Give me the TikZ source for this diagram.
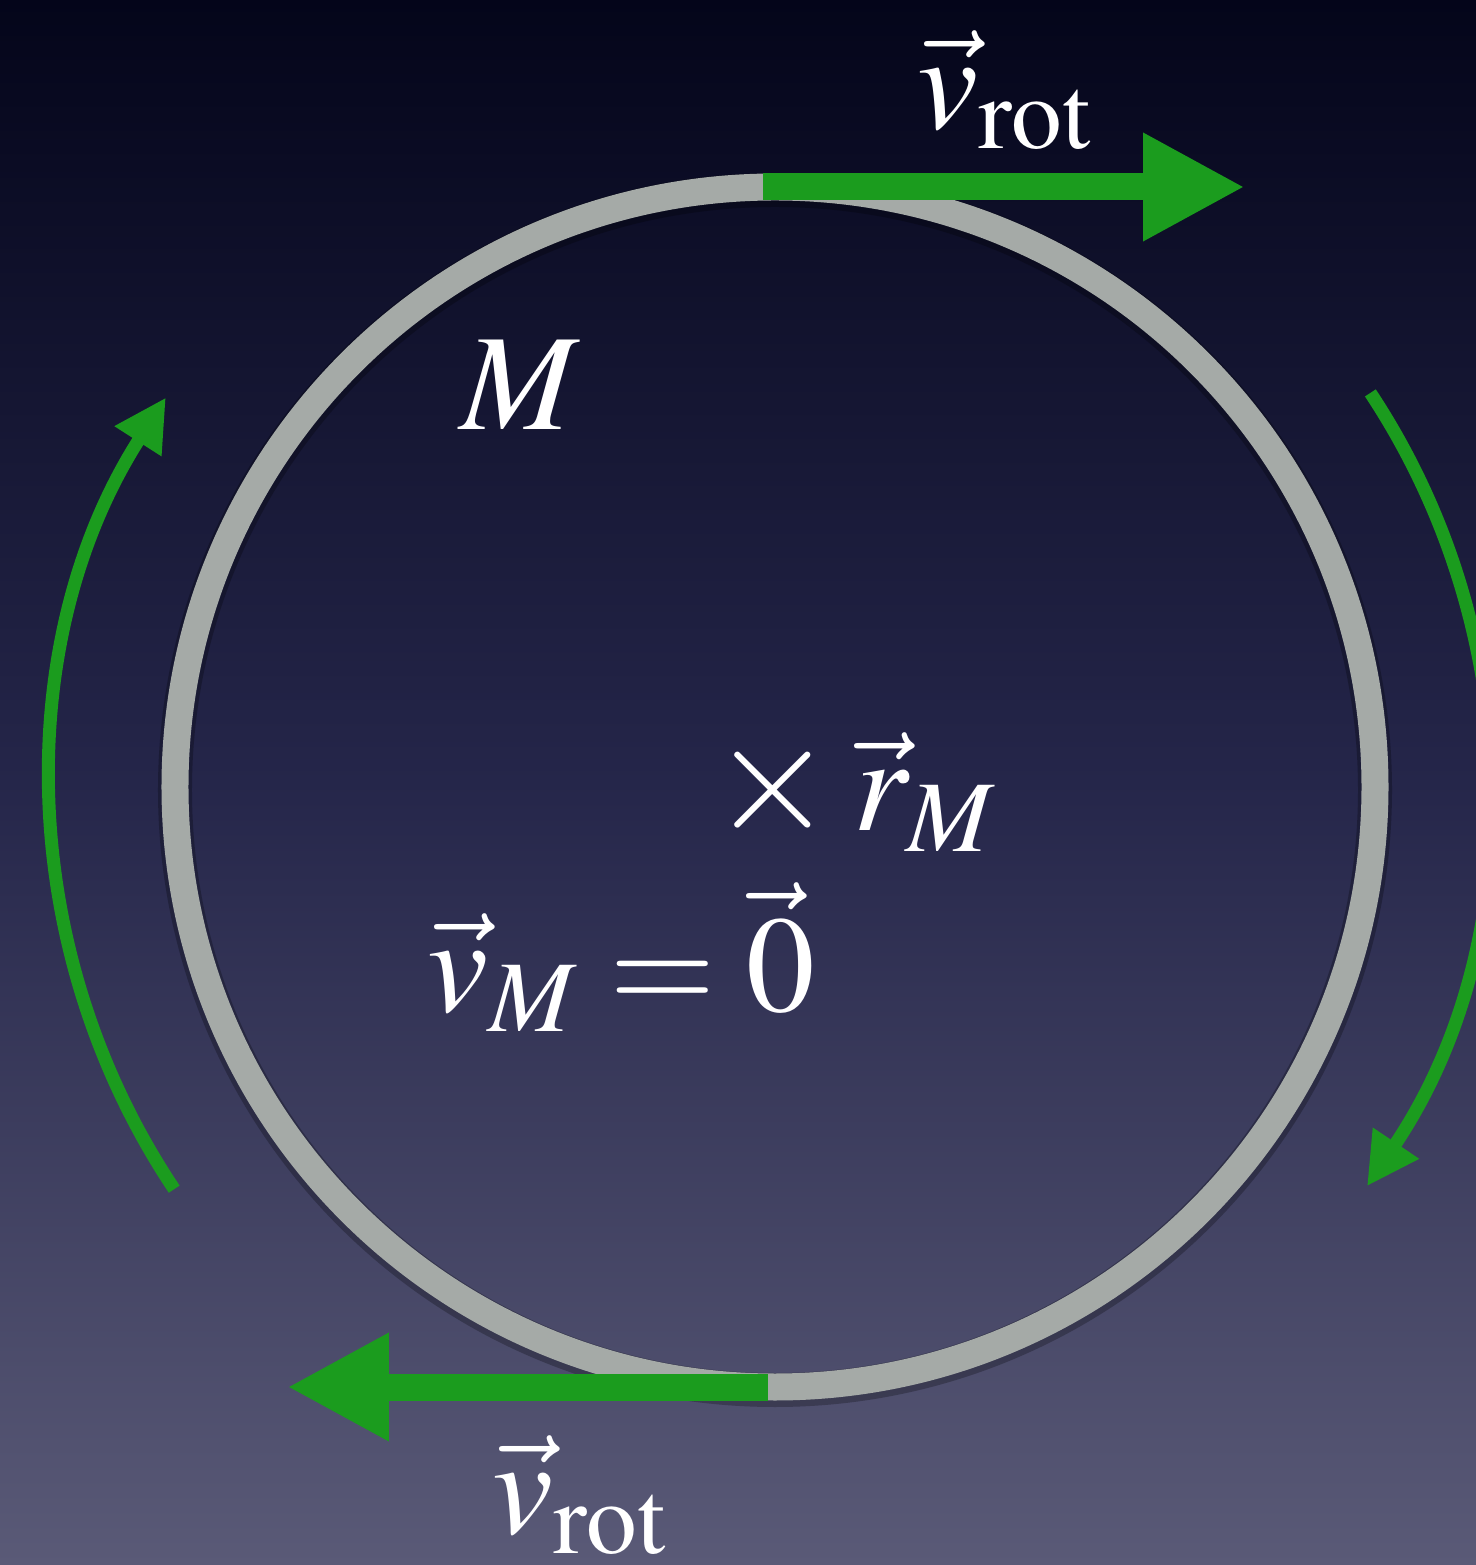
\documentclass[tikz,border=0pt]{standalone}
\usepackage{mathptmx}
\usetikzlibrary{arrows.meta}
\definecolor{ringgray}{RGB}{165,170,167}
\definecolor{spingreen}{RGB}{27,156,30}
\definecolor{bgtop}{RGB}{4,5,26}
\definecolor{bgmid}{RGB}{37,38,74}
\definecolor{bgbot}{RGB}{90,90,119}

\begin{document}
\begin{tikzpicture}[
    lbl/.style={text=white, inner sep=0pt, font=\fontsize{39}{47}\selectfont},
    vel/.style={spingreen, line width=0.27cm, -{Triangle[length=1.02cm,width=1.01cm]}},
    spin/.style={spingreen, line width=0.13cm, -{Triangle[length=0.52cm,width=0.52cm]}}]
    % Background
    \clip (-7.75,-7.78) rectangle (7.01,7.87);
    \shade[top color=bgtop, bottom color=bgbot, middle color=bgmid] (-7.75,-7.78) rectangle (7.01,7.87);

    % Ring
    \draw[black, opacity=0.25, line width=0.34cm] (0,-0.03) circle (6);
    \draw[ringgray, line width=0.27cm] (0,0) circle (6);

    % Velocities at top and bottom
    \coordinate (top) at (-0.12,6);
    \coordinate (topend) at (4.70,6);
    \coordinate (bot) at (-0.07,-6);
    \coordinate (botend) at (-4.88,-6);
    \draw[vel] (top) -- (topend);
    \draw[vel] (bot) -- (botend);

    % Sense of rotation
    \draw[spin] (213.8:7.23) arc[start angle=213.8, end angle=147.4, radius=7.23];
    \draw[spin] (33.5:7.14) arc[start angle=33.5, end angle=-34, radius=7.14];

    % Labels
    \node[lbl] (vtop) at (2.30,6.97) {$\vec{v}_{\mathrm{rot}}$};
    \node[lbl] (vbot) at (-1.95,-7.08) {$\vec{v}_{\mathrm{rot}}$};
    \node[lbl] (mass) at (-2.55,4.02) {$M$};
    \node[lbl, scale=1.15] (cm) at (-0.02,-0.03) {$\times$};
    \node[lbl] (rM) at (1.50,-0.05) {$\vec{r}_M$};
    \node[lbl] (vM) at (-1.54,-1.70) {$\vec{v}_M=\vec{0}$};
\end{tikzpicture}
\end{document}
